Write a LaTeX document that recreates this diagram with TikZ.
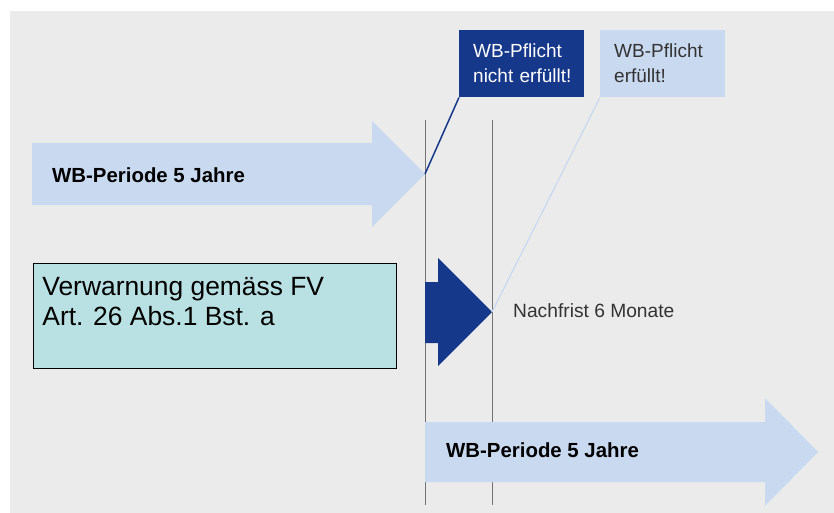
\documentclass[tikz,border=0pt]{standalone}
\usepackage{fontspec}
\setmainfont{Liberation Sans}
\usetikzlibrary{positioning}
\definecolor{hellblau}{HTML}{C9D9EF}
\definecolor{dunkelblau}{HTML}{16388A}
\definecolor{tuerkis}{HTML}{B9E1E4}
\definecolor{hintergrund}{HTML}{EBEBEB}
\definecolor{textgrau}{HTML}{333333}
\begin{document}
\begin{tikzpicture}[x=1pt, y=-1pt,
                    marke/.style={draw=gray!90!black, line width=0.9pt},
                    kasten/.style={rectangle, anchor=north west, minimum width=125pt, minimum height=67pt,
                                   inner xsep=14pt, inner ysep=0pt, text width=97pt, align=left,
                                   font=\fontsize{19}{25}\selectfont},
                    titel/.style={anchor=west, inner sep=0pt, font=\fontsize{20.4}{22}\selectfont\bfseries},
                    warnbox/.style={rectangle, draw=black, line width=0.8pt, fill=tuerkis, anchor=north west,
                                    inner xsep=9pt, inner ysep=0pt, font=\fontsize{26.4}{30}\selectfont}
                ]
                \useasboundingbox (0,0) rectangle (834,513);
                \fill[hintergrund] (10,11) rectangle (834,513);

                % Zeitmarken
                \coordinate (start) at (425,120);
                \coordinate (frist) at (492,120);
                \draw[marke] (start) -- ++(0,385);
                \draw[marke] (frist) -- ++(0,385);

                % Perioden und Nachfrist
                \coordinate (ende1) at (425,174);
                \coordinate (fristende) at (492,312);
                \fill[hellblau] (32,143) -- (372,143) -- (372,121) -- (ende1) -- (372,227) -- (372,205) -- (32,205) -- cycle;
                \fill[dunkelblau] (425,282) -- (438,282) -- (438,258) -- (fristende) -- (438,366) -- (438,343) -- (425,343) -- cycle;
                \fill[hellblau] (425,422) -- (765,422) -- (765,398) -- (818,452) -- (765,506) -- (765,482) -- (425,482) -- cycle;

                \node[titel] (periode1) at (52,175) {WB-Periode 5 Jahre};
                \node[titel] (periode2) at (446,450) {WB-Periode 5 Jahre};
                \node[anchor=west, inner sep=0pt, text=textgrau, font=\fontsize{19.2}{21}\selectfont] (nachfrist) at (513,311) {Nachfrist 6 Monate};

                \node[warnbox] (warnung) at (33,263) {\parbox[c][105pt][t]{345pt}{\vspace*{14pt}Verwarnung gemäss FV\\Art. 26 Abs.1 Bst. a}};

                % Ergebnis
                \node[kasten, fill=dunkelblau, text=white] (nicht) at (459,30) {\mbox{WB-Pflicht}\\\mbox{nicht erfüllt!}};
                \node[kasten, fill=hellblau, text=textgrau] (erfuellt) at (600,30) {\mbox{WB-Pflicht}\\\mbox{erfüllt!}};
                \draw[dunkelblau, line width=1.5pt] (ende1) -- (nicht.south west);
                \draw[hellblau, line width=1.2pt] (fristende) -- (erfuellt.south west);
                \end{tikzpicture}
\end{document}
